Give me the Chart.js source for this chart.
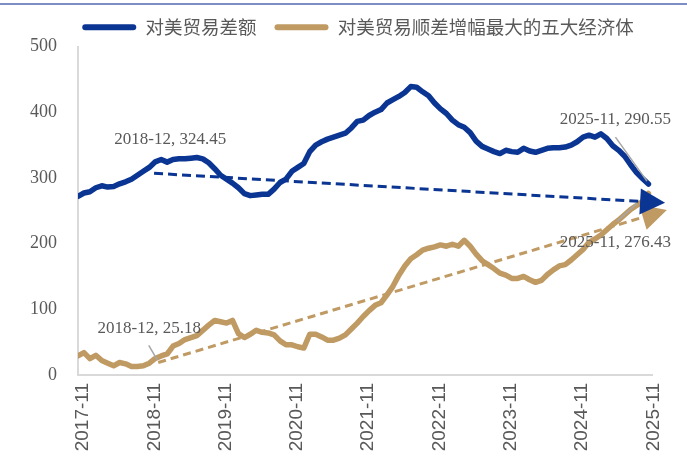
<!DOCTYPE html>
<html>
<head>
<meta charset="utf-8">
<script src="https://cdn.jsdelivr.net/npm/chart.js@4.4.0/dist/chart.umd.min.js"></script>
<style>
  html, body { margin: 0; padding: 0; background: #fff; }
  #wrap { width: 687px; height: 459px; position: relative; }
</style>
</head>
<body>
<div id="wrap"><canvas id="chart"></canvas></div>
<script>
// months 2017-11 .. 2025-11
const months = [];
for (let k = 0; k < 97; k++) {
  const m = (10 + k) % 12 + 1;
  const yr = 2017 + Math.floor((10 + k) / 12);
  months.push(`${yr}-${String(m).padStart(2, '0')}`);
}
const xTickLabels = ['2017-11','2018-11','2019-11','2020-11','2021-11','2022-11','2023-11','2024-11','2025-11'];
const xTickPos = [0, 12, 24, 36, 48, 60, 72, 84, 96];
const yTicks = [0, 100, 200, 300, 400, 500];

const seriesNames = ['对美贸易差额', '对美贸易顺差增幅最大的五大经济体'];

const tradeGap = [
  272, 277, 279, 285, 288, 286, 287, 291, 294, 298, 304, 310, 316, 324.45, 328, 324,
  328, 329, 329, 330, 331, 329, 323, 314, 304, 298, 292, 285, 276, 273, 274, 275,
  275, 283, 293, 298, 310, 316, 322, 340, 350, 355, 359, 362, 365, 368, 376, 386,
  388, 395, 400, 404, 414, 419, 424, 430, 439, 438, 431, 425, 414, 405, 398, 388,
  381, 377, 369, 356, 348, 344, 340, 337, 342, 340, 339, 345, 341, 339, 342, 345,
  346, 346, 347, 350, 355, 362, 365, 362, 367, 360, 349, 342, 333, 320, 308, 299,
  290.55
];
const top5Gap = [
  29, 34, 25, 30, 22, 18, 14, 19, 17, 13, 13, 14, 18, 25.18, 29, 32,
  44, 48, 54, 57, 60, 68, 76, 83, 81, 79, 83, 63, 57, 62, 68, 65,
  64, 61, 52, 46, 46, 43, 41, 62, 62, 58, 53, 53, 56, 61, 70, 79,
  89, 98, 106, 110, 122, 135, 152, 166, 177, 183, 190, 193, 195, 198, 196, 199,
  196, 205, 196, 184, 174, 168, 162, 155, 152, 147, 147, 150, 145, 141, 144, 153,
  160, 166, 168, 175, 183, 191, 202, 207, 213, 221, 229, 236, 244, 252, 258, 264,
  276.43
];

// trend arrows: [monthIndex, value] start and tip
const gapTrend = [[12.8, 307], [98.8, 262]];
const top5Trend = [[13.5, 19], [99.1, 251]];

// labelled points: month index, series
const callouts = [
  { i: 13, series: 0, text: '2018-12, 324.45' },
  { i: 13, series: 1, text: '2018-12, 25.18' },
  { i: 96, series: 0, text: '2025-11, 290.55' },
  { i: 96, series: 1, text: '2025-11, 276.43' }
];

const BLUE = '#0b3592';
const GOLD = '#c09a63';
const GREY_TXT = '#595959';

const calloutStyle = [
  { dx: 15, dy: -22, leader: null },
  { dx: -6, dy: -30, leader: [[-6.5, -13], [2, 1.5]] },
  { dx: -33, dy: -65, leader: [[-33, -47], [-1.5, -3]] },
  { dx: -33, dy: 49, leader: [[-31.5, 28], [-11.5, 10]] }
];

const decorPlugin = {
  id: 'decor',
  afterLayout(chart) {
    // nudge the legend row to the right, as in the source chart
    chart.legend.left += 32;
    chart.legend.right += 32;
  },
  beforeDraw(chart) {
    const { ctx, width } = chart;
    ctx.save();
    ctx.strokeStyle = '#7d8ec6';
    ctx.lineWidth = 2;
    ctx.beginPath(); ctx.moveTo(0, 4); ctx.lineTo(width, 4); ctx.stroke();
    ctx.restore();
  },
  afterDatasetsDraw(chart) {
    const { ctx, scales: { x, y } } = chart;
    const arrows = [
      { t: top5Trend, color: GOLD, dash: [8, 5] },
      { t: gapTrend, color: BLUE, dash: [9, 5] }
    ];
    arrows.forEach(a => {
      const x0 = x.getPixelForValue(a.t[0][0]), y0 = y.getPixelForValue(a.t[0][1]);
      const x1 = x.getPixelForValue(a.t[1][0]), y1 = y.getPixelForValue(a.t[1][1]);
      const ang = Math.atan2(y1 - y0, x1 - x0);
      const len = 25, half = 13;
      const bx = x1 - len * Math.cos(ang), by = y1 - len * Math.sin(ang);
      ctx.save();
      ctx.strokeStyle = a.color;
      ctx.lineWidth = 3;
      ctx.setLineDash(a.dash);
      ctx.beginPath(); ctx.moveTo(x0, y0); ctx.lineTo(bx + 2 * Math.cos(ang), by + 2 * Math.sin(ang)); ctx.stroke();
      ctx.setLineDash([]);
      ctx.fillStyle = a.color;
      ctx.beginPath();
      ctx.moveTo(x1, y1);
      ctx.lineTo(bx + half * Math.sin(ang), by - half * Math.cos(ang));
      ctx.lineTo(bx - half * Math.sin(ang), by + half * Math.cos(ang));
      ctx.closePath(); ctx.fill();
      ctx.restore();
    });
  },
  afterDraw(chart) {
    const { ctx, scales: { x, y } } = chart;
    const series = [tradeGap, top5Gap];
    ctx.save();
    ctx.font = '17px "Liberation Serif", serif';
    ctx.fillStyle = GREY_TXT;
    ctx.textAlign = 'center';
    ctx.textBaseline = 'middle';
    callouts.forEach((c, k) => {
      const st = calloutStyle[k];
      const px = x.getPixelForValue(c.i), py = y.getPixelForValue(series[c.series][c.i]);
      if (st.leader) {
        ctx.strokeStyle = '#a6a6a6';
        ctx.lineWidth = 1.5;
        ctx.beginPath();
        ctx.moveTo(px + st.leader[0][0], py + st.leader[0][1]);
        ctx.lineTo(px + st.leader[1][0], py + st.leader[1][1]);
        ctx.stroke();
      }
      ctx.fillText(c.text, px + st.dx, py + st.dy);
    });
    ctx.restore();
  }
};

new Chart(document.getElementById('chart'), {
  type: 'line',
  data: {
    datasets: [
      {
        label: seriesNames[0],
        data: tradeGap.map((v, i) => ({ x: i, y: v })),
        borderColor: BLUE, backgroundColor: BLUE,
        borderWidth: 5.5, pointRadius: 0, tension: 0,
        borderJoinStyle: 'round', borderCapStyle: 'round'
      },
      {
        label: seriesNames[1],
        data: top5Gap.map((v, i) => ({ x: i, y: v })),
        borderColor: GOLD, backgroundColor: GOLD,
        borderWidth: 5.5, pointRadius: 0, tension: 0,
        borderJoinStyle: 'round', borderCapStyle: 'round'
      }
    ]
  },
  options: {
    responsive: true,
    maintainAspectRatio: false,
    animation: false,
    layout: { padding: { left: 0, right: 35, top: 0, bottom: 0 } },
    plugins: {
      tooltip: { enabled: false },
      legend: {
        position: 'top',
        labels: {
          color: GREY_TXT,
          font: { family: '"Noto Sans CJK SC", sans-serif', size: 18.5 },
          boxWidth: 54, boxHeight: 6, padding: 18,
          useBorderRadius: true, borderRadius: 3,
          generateLabels: chart => chart.data.datasets.map((ds, i) => ({
            text: ds.label, fillStyle: ds.borderColor, strokeStyle: ds.borderColor,
            lineWidth: 0, borderRadius: 3, datasetIndex: i, fontColor: GREY_TXT
          }))
        }
      }
    },
    scales: {
      x: {
        type: 'linear', min: 0, max: 96.6,
        afterFit: s => { s.height = 84; },
        afterBuildTicks: s => { s.ticks = xTickPos.map(v => ({ value: v })); },
        grid: { display: false, drawTicks: false },
        border: { display: true, color: '#d9d9d9', width: 2 },
        ticks: {
          autoSkip: false, minRotation: 90, maxRotation: 90, padding: 8, labelOffset: 5,
          color: GREY_TXT, font: { family: '"Liberation Sans", sans-serif', size: 19 },
          callback: (v, idx) => xTickLabels[idx]
        }
      },
      y: {
        min: 0, max: 500,
        afterFit: s => { s.width = 78; },
        afterBuildTicks: s => { s.ticks = yTicks.map(v => ({ value: v })); },
        grid: { display: false, drawTicks: false },
        border: { display: true, color: '#d9d9d9', width: 2 },
        ticks: {
          padding: 21, color: GREY_TXT,
          font: { family: '"Liberation Serif", serif', size: 18 },
          callback: v => String(v)
        }
      }
    }
  },
  plugins: [decorPlugin]
});
</script>
</body>
</html>
